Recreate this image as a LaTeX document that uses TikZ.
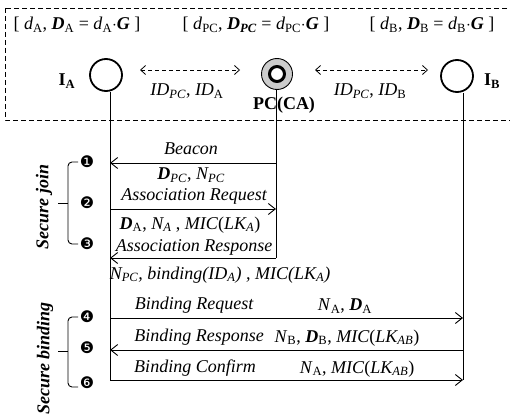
\documentclass[tikz,border=0pt]{standalone}
\usepackage{fontspec}
\setmainfont{Liberation Serif}
\newfontfamily\dingfont{DejaVu Sans}
\usetikzlibrary{arrows.meta}
\newcommand\bi[1]{\textbf{\textit{#1}}}
\newcommand\sbs[1]{\textsubscript{#1}}
\tikzset{
  party/.style={circle,draw,line width=1.8pt,minimum size=32pt,inner sep=0pt},
  life/.style={line width=0.9pt},
  msg/.style={line width=0.9pt,-{Straight Barb[length=7pt,width=11pt]}},
  link/.style={dash pattern=on 4pt off 3pt,line width=0.8pt,
    {Straight Barb[length=5pt,width=9pt]}-{Straight Barb[length=5pt,width=9pt]}},
  txt/.style={font=\fontsize{18}{20}\selectfont,inner sep=0pt},
  itxt/.style={txt,font=\fontsize{18}{20}\selectfont\itshape},
  stepnum/.style={font=\dingfont\fontsize{16}{16}\selectfont,inner sep=0pt},
  bracket/.style={line width=0.9pt,rounded corners=4pt},
  phase/.style={rotate=90,inner sep=0pt,font=\fontsize{18}{20}\selectfont\bfseries\itshape}
}
\begin{document}
\begin{tikzpicture}[x=1pt,y=-1pt,line join=round]
\useasboundingbox (0,0) rectangle (510,414);
\draw[dash pattern=on 5pt off 3pt,line width=0.8pt] (5,8) rectangle (516,120);
\node[party] (ia) at (106,75) {};
\node[party,fill=black!20,line width=0.9pt,minimum size=31pt] (pc) at (277,74) {};
\node[circle,draw,fill=white,line width=3pt,minimum size=15pt,inner sep=0pt] (pcin) at (pc) {};
\node[party] (ib) at (457,76) {};
\node[txt,font=\fontsize{18}{20}\selectfont\bfseries] (ialbl) at (67,81) {I\sbs{A}};
\node[txt,font=\fontsize{18}{20}\selectfont\bfseries] (iblbl) at (492,81) {I\sbs{B}};
\node[txt,font=\fontsize{18}{20}\selectfont\bfseries] (pclbl) at (284,105) {PC(CA)};
\node[txt] (keya) at (77,25) {[ \textit{d}\sbs{A}, \bi{D}\sbs{A} = \textit{d}\sbs{A}$\cdot$\bi{G} ]};
\node[txt] (keypc) at (256,25) {[ \textit{d}\sbs{PC}, \bi{D}\sbs{\bi{PC}} = \textit{d}\sbs{PC}$\cdot$\bi{G} ]};
\node[txt] (keyb) at (432,25) {[ \textit{d}\sbs{B}, \bi{D}\sbs{B} = \textit{d}\sbs{B}$\cdot$\bi{G} ]};
\coordinate (la1) at (140,70); \coordinate (la2) at (240,70);
\coordinate (lb1) at (315,70); \coordinate (lb2) at (428,70);
\draw[link] (la1) -- (la2);
\draw[link] (lb1) -- (lb2);
\node[txt] (ida) at (187,91) {\textit{ID\sbs{PC}}, \textit{ID}\sbs{A}};
\node[txt] (idb) at (370,91) {\textit{ID\sbs{PC}}, \textit{ID}\sbs{B}};
\foreach \y [count=\i] in {163,209,258,318,350,380}{
  \coordinate (a\i) at (110,\y);
  \coordinate (p\i) at (276,\y);
  \coordinate (b\i) at (463,\y);}
\draw[life] (ia.south -| a6) -- (a6);
\draw[life] (pc.south -| p3) -- (p3);
\draw[life] (ib.south -| b6) -- (b6);
\draw[msg] (p1) -- (a1);
\draw[msg] (a2) -- (p2);
\draw[msg] (p3) -- (a3);
\draw[msg] (a4) -- (b4);
\draw[msg] (b5) -- (a5);
\draw[msg] (a6) -- (b6);
\node[itxt] (beacon) at (191,149) {Beacon};
\node[txt] (beaconkey) at (191,175) {\bi{D}\sbs{\textit{PC}}, \textit{N\sbs{PC}}};
\node[itxt] (areq) at (194,196) {Association Request};
\node[txt] (areqkey) at (190,225) {\bi{D}\sbs{A}, \textit{N\sbs{A}} , \textit{MIC}(\textit{LK\sbs{A}})};
\node[itxt] (aresp) at (194,247) {Association Response};
\node[itxt] (arespkey) at (220,275) {N\sbs{PC}, binding(ID\sbs{A}) , MIC(LK\sbs{A})};
\node[itxt] (breq) at (194,305) {Binding Request};
\node[txt] (breqkey) at (345,306) {\textit{N}\sbs{A}, \bi{D}\sbs{A}};
\node[itxt] (bresp) at (199,337) {Binding Response};
\node[txt] (brespkey) at (347,338) {\textit{N}\sbs{B}, \bi{D}\sbs{B}, \textit{MIC}(\textit{LK\sbs{AB}})};
\node[itxt] (bconf) at (195,368) {Binding Confirm};
\node[txt] (bconfkey) at (357,369) {\textit{N}\sbs{A}, \textit{MIC}(\textit{LK\sbs{AB}})};
\draw[bracket] (78,162) -- (68,162) -- (68,244) -- (78,244);
\draw[line width=0.9pt] (58,203) -- (68,203);
\draw[bracket] (78,317) -- (68,317) -- (68,387) -- (78,387);
\draw[line width=0.9pt] (58,351) -- (68,351);
\foreach \n/\y [count=\i] in {❶/162,❷/203,❸/244,❹/317,❺/348,❻/383}
  \node[stepnum] (num\i) at (87,\y) {\n};
\node[phase] (join) at (44,207) {Secure join};
\node[phase,anchor=east] (binding) at (45,302) {Secure binding};
\end{tikzpicture}
\end{document}
